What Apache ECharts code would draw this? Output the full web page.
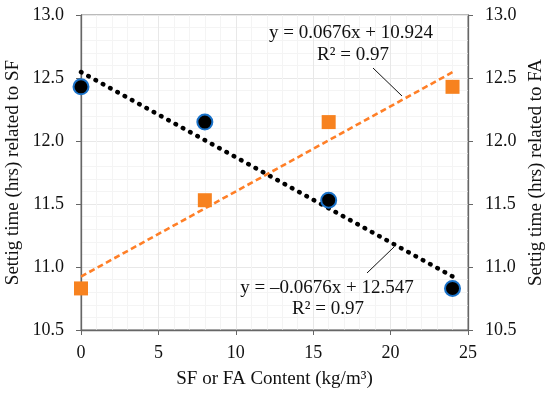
<!DOCTYPE html>
<html><head><meta charset="utf-8">
<script src="https://cdn.jsdelivr.net/npm/echarts@6/dist/echarts.min.js"></script>
<style>html,body{margin:0;padding:0;background:#fff}#c{width:550px;height:393px}</style>
</head><body><div id="c"></div>
<script>
// Data
const content = [0, 8, 16, 24];
const sfTime = [12.43, 12.15, 11.53, 10.83];
const faTime = [10.83, 11.53, 12.15, 12.43];
const sfTrendX = [0, 24];
const sfTrendY = [12.547, 10.925];
const faTrendX = [0, 24];
const faTrendY = [10.924, 12.546];
const faEqText = ['y = 0.0676x + 10.924', 'R² = 0.97'];
const sfEqText = ['y = –0.0676x + 12.547', 'R² = 0.97'];

const font = 'Liberation Serif';
const chart = echarts.init(document.getElementById('c'));
const yCommon = {
  type: 'value', min: 10.5, max: 13, interval: 0.5,
  axisLine: {show: true, lineStyle: {color: '#666', width: 1.3}},
  axisTick: {show: true, inside: false, length: 5, lineStyle: {color: '#666'}},
  axisLabel: {color: '#111', fontFamily: font, fontSize: 18, margin: 17, formatter: v => v.toFixed(1)},
  nameLocation: 'middle', nameMoveOverlap: false,
  nameTextStyle: {color: '#111', fontFamily: font, fontSize: 19},
  minorTick: {show: false, splitNumber: 5},
};
const eqFont = '19px "Liberation Serif"';
chart.setOption({
  animation: false,
  grid: {left: 81, right: 82, top: 15, bottom: 63, show: true, borderColor: '#777', borderWidth: 1,
    containLabel: false, outerBoundsMode: 'none'},
  xAxis: {
    type: 'value', min: 0, max: 25, interval: 5,
    name: 'SF or FA Content (kg/m³)', nameLocation: 'middle', nameGap: 40, nameMoveOverlap: false,
    nameTextStyle: {color: '#111', fontFamily: font, fontSize: 19},
    axisLine: {show: true, lineStyle: {color: '#666', width: 1.3}},
    axisTick: {show: true, length: 5, lineStyle: {color: '#666'}},
    axisLabel: {color: '#111', fontFamily: font, fontSize: 18, margin: 14},
    splitLine: {show: true, lineStyle: {color: '#e8e8e8', width: 1}},
    minorTick: {show: false, splitNumber: 5},
    minorSplitLine: {show: true, lineStyle: {color: '#f4f4f4', width: 1}}
  },
  yAxis: [
    Object.assign({}, yCommon, {position: 'left', name: 'Settig time (hrs) related to SF', nameGap: 58,
      splitLine: {show: true, lineStyle: {color: '#e8e8e8'}},
      minorSplitLine: {show: true, lineStyle: {color: '#f4f4f4'}}}),
    Object.assign({}, yCommon, {position: 'right', name: 'Settig time (hrs) related to FA', nameGap: 59,
      splitLine: {show: false}})
  ],
  series: [
    {type: 'line', yAxisIndex: 0, data: sfTrendX.map((x, i) => [x, sfTrendY[i]]), symbol: 'none', z: 2,
      lineStyle: {color: '#000', width: 4.5, type: [0.5, 7.8], cap: 'round'}},
    {type: 'line', yAxisIndex: 1, data: faTrendX.map((x, i) => [x, faTrendY[i]]), symbol: 'none', z: 2,
      lineStyle: {color: '#FF7F27', width: 2.6, type: [6, 3.5]}},
    {type: 'scatter', yAxisIndex: 0, data: content.map((x, i) => [x, sfTime[i]]), symbol: 'circle', symbolSize: 15, z: 3,
      itemStyle: {color: '#000', borderColor: '#1a72c9', borderWidth: 2, opacity: 1}},
    {type: 'scatter', yAxisIndex: 1, data: content.map((x, i) => [x, faTime[i]]), symbol: 'rect', symbolSize: 14, z: 3,
      itemStyle: {color: '#F7821F', opacity: 1}}
  ],
  graphic: [
    {type: 'text', z: 100, x: 351, y: 33, style: {text: faEqText[0], font: eqFont, fill: '#111', textAlign: 'center', textVerticalAlign: 'middle'}},
    {type: 'text', z: 100, x: 353, y: 55, style: {text: faEqText[1], font: eqFont, fill: '#111', textAlign: 'center', textVerticalAlign: 'middle'}},
    {type: 'line', z: 100, shape: {x1: 373, y1: 68, x2: 402, y2: 96}, style: {stroke: '#111', lineWidth: 1}},
    {type: 'text', z: 100, x: 327, y: 288, style: {text: sfEqText[0], font: eqFont, fill: '#111', textAlign: 'center', textVerticalAlign: 'middle'}},
    {type: 'text', z: 100, x: 328, y: 309, style: {text: sfEqText[1], font: eqFont, fill: '#111', textAlign: 'center', textVerticalAlign: 'middle'}},
    {type: 'line', z: 100, shape: {x1: 367, y1: 273, x2: 394, y2: 247}, style: {stroke: '#111', lineWidth: 1}}
  ]
});
</script></body></html>
